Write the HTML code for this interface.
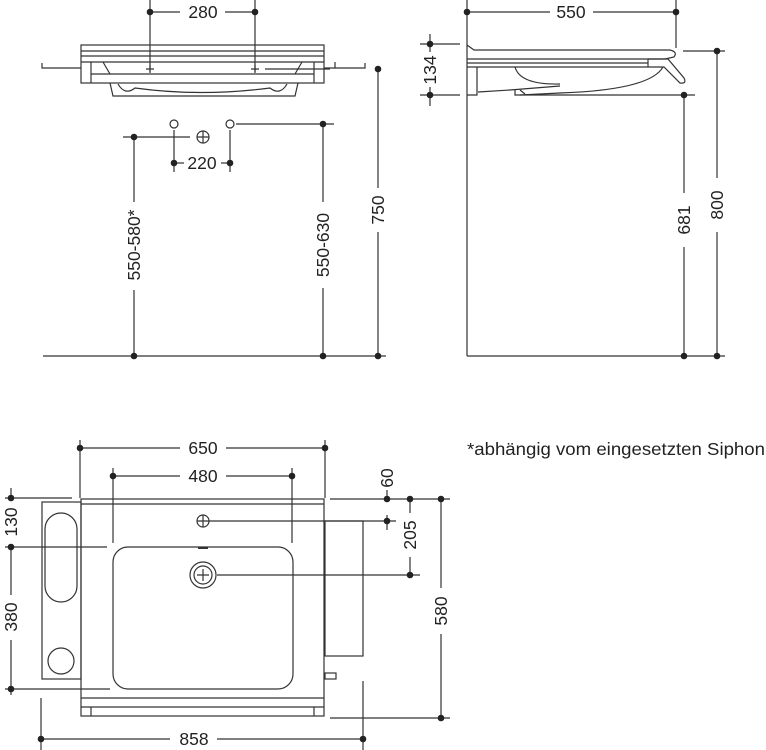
<!DOCTYPE html>
<html><head><meta charset="utf-8"><style>
body{margin:0;background:#fff;width:766px;height:750px;overflow:hidden}
svg{display:block}
text{font-family:"Liberation Sans",sans-serif;font-size:17.5px;fill:#222}
</style></head><body>
<svg width="766" height="750" viewBox="0 0 766 750" fill="none" stroke="#333" stroke-width="1.2">
<!-- ===== TOP LEFT VIEW ===== -->
<g>
<line x1="150" y1="0" x2="150" y2="72"/><line x1="255" y1="0" x2="255" y2="72"/>
<line x1="150" y1="12" x2="180" y2="12"/><line x1="225" y1="12" x2="255" y2="12"/>
<text x="203" y="18" text-anchor="middle" stroke="none">280</text>
<rect x="81" y="45" width="243" height="38"/>
<line x1="81" y1="51" x2="324" y2="51"/><line x1="81" y1="56" x2="324" y2="56"/><line x1="81" y1="62" x2="324" y2="62"/>
<line x1="91" y1="62" x2="91" y2="83"/><line x1="314" y1="62" x2="314" y2="83"/>
<line x1="91" y1="74" x2="314" y2="74"/>
<path d="M103 62 L110 74 M302 62 L295 74"/>
<path d="M110 83 L113 96 L295 96 L298 83"/>
<path d="M118 84 Q125 96 135 88 Q200 97 270 88 Q280 96 287 84"/>
<path d="M42 63 L42 68 L81 68 M324 68 L365 68 L365 63 M335 62 L335 68"/>
<path d="M146 69 h8 M150 65 v8 M251 69 h8 M255 65 v8"/>
<line x1="265" y1="69" x2="330" y2="69"/>
<line x1="378" y1="69" x2="378" y2="356"/>
<circle cx="174" cy="124" r="4"/><circle cx="230" cy="124" r="4"/>
<circle cx="203" cy="137" r="6"/><path d="M197 137h12M203 131v12"/>
<line x1="174" y1="130" x2="174" y2="172"/><line x1="230" y1="130" x2="230" y2="172"/>
<line x1="174" y1="163" x2="184" y2="163"/><line x1="221" y1="163" x2="230" y2="163"/>
<text x="202" y="169" text-anchor="middle" stroke="none">220</text>
<line x1="123" y1="137" x2="190" y2="137"/>
<line x1="236" y1="124" x2="334" y2="124"/>
<line x1="134" y1="137" x2="134" y2="202"/><line x1="134" y1="290" x2="134" y2="356"/>
<line x1="323" y1="124" x2="323" y2="202"/><line x1="323" y1="288" x2="323" y2="356"/>
<line x1="43" y1="356" x2="386" y2="356"/>
<text transform="translate(140 245) rotate(-90)" text-anchor="middle" stroke="none">550-580*</text>
<text transform="translate(329 245) rotate(-90)" text-anchor="middle" stroke="none">550-630</text>
<g fill="#fff" stroke="none"><rect x="370" y="188" width="16" height="44"/></g>
<text transform="translate(384 210) rotate(-90)" text-anchor="middle" stroke="none">750</text>
<g fill="#222" stroke="none">
<circle cx="150" cy="12" r="3.3"/><circle cx="255" cy="12" r="3.3"/><circle cx="378" cy="69" r="3.3"/>
<circle cx="174" cy="163" r="3.3"/><circle cx="230" cy="163" r="3.3"/>
<circle cx="134" cy="137" r="3.3"/><circle cx="323" cy="124" r="3.3"/>
<circle cx="134" cy="356" r="3.3"/><circle cx="323" cy="356" r="3.3"/><circle cx="378" cy="356" r="3.3"/>
</g>
</g>
<!-- ===== TOP RIGHT VIEW ===== -->
<g>
<line x1="467" y1="0" x2="467" y2="356"/><line x1="676" y1="0" x2="676" y2="48"/>
<line x1="467" y1="12" x2="550" y2="12"/><line x1="593" y1="12" x2="676" y2="12"/>
<text x="571" y="18" text-anchor="middle" stroke="none">550</text>
<line x1="430" y1="34" x2="430" y2="52"/><line x1="430" y1="87" x2="430" y2="106"/>
<line x1="420" y1="44" x2="460" y2="44"/><line x1="420" y1="95" x2="460" y2="95"/>
<text transform="translate(436 70) rotate(-90)" text-anchor="middle" stroke="none">134</text>
<path d="M467 45 L474 50 L670 50 Q678 52 674 57 L665 59"/>
<line x1="467" y1="59" x2="665" y2="59"/><line x1="467" y1="63" x2="648" y2="63"/>
<line x1="467" y1="67" x2="648" y2="67"/><line x1="648" y1="59" x2="648" y2="67"/>
<path d="M648 59 L668 59 L684 78 Q687 84 680 83 L664 67 L648 67"/>
<path d="M477 67 L477 95 L467 95 M478 92 L510 90 L560 86"/>
<path d="M515 67 Q520 85 560 84 M663 67 Q650 90 560 93 L520 95"/>
<path d="M515 89 L515 95 L572 95 M520 90 L525 94"/>
<line x1="572" y1="95" x2="695" y2="95"/>
<line x1="683" y1="51" x2="725" y2="51"/>
<line x1="717" y1="51" x2="717" y2="178"/><line x1="717" y1="232" x2="717" y2="356"/>
<line x1="684" y1="95" x2="684" y2="193"/><line x1="684" y1="247" x2="684" y2="356"/>
<text transform="translate(723 205) rotate(-90)" text-anchor="middle" stroke="none">800</text>
<text transform="translate(690 220) rotate(-90)" text-anchor="middle" stroke="none">681</text>
<line x1="467" y1="356" x2="725" y2="356"/>
<g fill="#222" stroke="none">
<circle cx="467" cy="12" r="3.3"/><circle cx="676" cy="12" r="3.3"/>
<circle cx="430" cy="44" r="3.3"/><circle cx="430" cy="95" r="3.3"/>
<circle cx="717" cy="51" r="3.3"/><circle cx="684" cy="95" r="3.3"/>
<circle cx="684" cy="356" r="3.3"/><circle cx="717" cy="356" r="3.3"/>
</g>
</g>
<text x="467" y="455" stroke="none" style="font-size:17.5px" textLength="298" lengthAdjust="spacingAndGlyphs">*abhängig vom eingesetzten Siphon</text>
<!-- ===== BOTTOM VIEW ===== -->
<g>
<line x1="80" y1="440" x2="80" y2="498"/><line x1="325" y1="440" x2="325" y2="498"/>
<line x1="80" y1="448" x2="180" y2="448"/><line x1="226" y1="448" x2="325" y2="448"/>
<text x="203" y="454" text-anchor="middle" stroke="none">650</text>
<line x1="113" y1="468" x2="113" y2="543"/><line x1="292" y1="468" x2="292" y2="543"/>
<line x1="113" y1="476" x2="180" y2="476"/><line x1="226" y1="476" x2="292" y2="476"/>
<text x="203" y="482" text-anchor="middle" stroke="none">480</text>
<rect x="81" y="499" width="243" height="217"/>
<line x1="81" y1="504" x2="324" y2="504"/>
<line x1="81" y1="698" x2="324" y2="698"/><line x1="81" y1="707" x2="324" y2="707"/>
<line x1="91" y1="707" x2="91" y2="716"/><line x1="314" y1="707" x2="314" y2="716"/>
<rect x="42" y="502" width="39" height="177"/>
<rect x="45" y="513" width="32" height="89" rx="16"/>
<circle cx="61" cy="661" r="13"/>
<rect x="113" y="547" width="180" height="142" rx="15"/>
<circle cx="203" cy="521" r="6"/><path d="M197 521h12M203 515v12"/>
<circle cx="203" cy="575" r="13"/><circle cx="203" cy="575" r="9"/><path d="M197 575h12M203 569v12"/>
<line x1="198" y1="548" x2="208" y2="548" stroke-width="2"/>
<rect x="325" y="521" width="38" height="135"/>
<rect x="325" y="673" width="11" height="6"/>
<line x1="209" y1="521" x2="396" y2="521"/>
<line x1="387" y1="515" x2="387" y2="530"/>
<line x1="217" y1="575" x2="420" y2="575"/>
<line x1="330" y1="499" x2="450" y2="499"/><line x1="330" y1="718" x2="450" y2="718"/>
<line x1="387" y1="490" x2="387" y2="499"/>
<text transform="translate(393 478) rotate(-90)" text-anchor="middle" stroke="none">60</text>
<line x1="410" y1="499" x2="410" y2="513"/><line x1="410" y1="557" x2="410" y2="575"/>
<text transform="translate(416 535) rotate(-90)" text-anchor="middle" stroke="none">205</text>
<line x1="441" y1="499" x2="441" y2="588"/><line x1="441" y1="634" x2="441" y2="718"/>
<text transform="translate(447 611) rotate(-90)" text-anchor="middle" stroke="none">580</text>
<line x1="5" y1="498" x2="72" y2="498"/><line x1="5" y1="547" x2="107" y2="547"/><line x1="5" y1="689" x2="110" y2="689"/>
<line x1="11" y1="488" x2="11" y2="500"/><line x1="11" y1="544" x2="11" y2="595"/><line x1="11" y1="640" x2="11" y2="695"/>
<text transform="translate(17 522) rotate(-90)" text-anchor="middle" stroke="none">130</text>
<text transform="translate(17 617) rotate(-90)" text-anchor="middle" stroke="none">380</text>
<line x1="41" y1="698" x2="41" y2="750"/><line x1="363" y1="681" x2="363" y2="750"/>
<line x1="41" y1="739" x2="170" y2="739"/><line x1="217" y1="739" x2="363" y2="739"/>
<text x="194" y="745" text-anchor="middle" stroke="none">858</text>
<g fill="#222" stroke="none">
<circle cx="80" cy="448" r="3.3"/><circle cx="325" cy="448" r="3.3"/>
<circle cx="113" cy="476" r="3.3"/><circle cx="292" cy="476" r="3.3"/>
<circle cx="387" cy="499" r="3.3"/><circle cx="410" cy="499" r="3.3"/><circle cx="441" cy="499" r="3.3"/>
<circle cx="387" cy="521" r="3.3"/><circle cx="410" cy="575" r="3.3"/><circle cx="441" cy="718" r="3.3"/>
<circle cx="11" cy="498" r="3.3"/><circle cx="11" cy="547" r="3.3"/><circle cx="11" cy="689" r="3.3"/>
<circle cx="41" cy="739" r="3.3"/><circle cx="363" cy="739" r="3.3"/>
</g>
</g>
</svg>
</body></html>
